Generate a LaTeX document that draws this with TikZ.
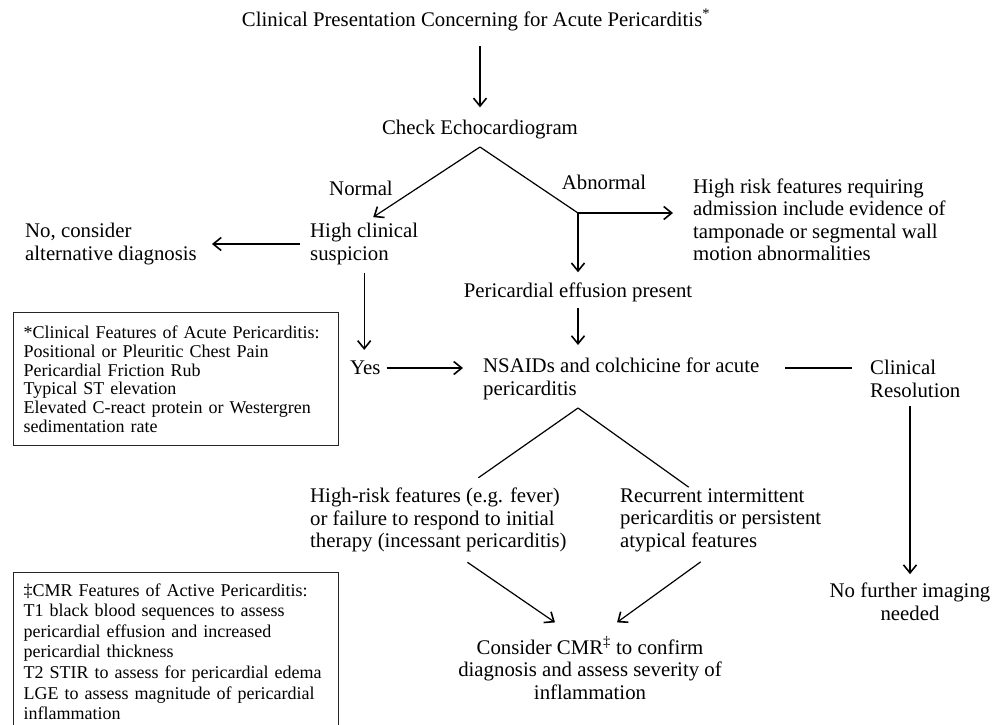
\documentclass[tikz,border=0pt]{standalone}
\usepackage{fontspec}
\setmainfont{Liberation Serif}
\usetikzlibrary{arrows.meta}

\begin{document}
\begin{tikzpicture}[
  x=1pt, y=-1pt,
  txt/.style={inner sep=0pt, font=\fontsize{20.8}{22.5}\selectfont},
  lefttxt/.style={txt, anchor=west, align=left},
  midtxt/.style={txt, align=center},
  notebox/.style={draw=black!85, line width=1.4pt, anchor=north west, align=left,
    text width=305pt, inner xsep=10pt, inner ysep=0pt, minimum width=325pt},
  arrow/.style={-{Straight Barb[length=8pt,width=13pt,line width=1.6pt]}, line width=1.2pt},
  link/.style={line width=1.2pt}
]
  \useasboundingbox (0,0) rectangle (1003,724);

  % top of the chart
  \node[midtxt] (title) at (476,20) {Clinical Presentation Concerning for Acute Pericarditis\textsuperscript{*}};
  \node[midtxt] (echo) at (480,130) {Check Echocardiogram};
  \node[midtxt] (normal) at (361,188) {Normal};
  \node[midtxt] (abnormal) at (604,182) {Abnormal};
  \node[lefttxt] (susp) at (310,244) {High clinical\\suspicion};
  \node[lefttxt] (nodiag) at (25,244) {No, consider\\alternative diagnosis};
  \node[lefttxt] (risk) at (693,220) {High risk features requiring\\admission include evidence of\\tamponade or segmental wall\\motion abnormalities};
  \node[midtxt] (effusion) at (578,292) {Pericardial effusion present};

  % treatment row
  \node[lefttxt] (yes) at (350,368) {Yes};
  \node[lefttxt] (nsaid) at (483,379) {NSAIDs and colchicine for acute\\pericarditis};
  \node[lefttxt] (resol) at (870,379) {Clinical\\Resolution};

  % lower part
  \node[lefttxt] (highrisk) at (310,520) {High-risk features (e.g. fever)\\or failure to respond to initial\\therapy (incessant pericarditis)};
  \node[lefttxt] (recur) at (620,520) {Recurrent intermittent\\pericarditis or persistent\\atypical features};
  \node[midtxt] (cmr) at (590,668) {Consider CMR\textsuperscript{‡} to confirm\\diagnosis and assess severity of\\inflammation};
  \node[midtxt] (nofurther) at (910,602) {No further imaging\\needed};

  % side notes
  \node[notebox, minimum height=133pt, font=\fontsize{18}{18.8}\selectfont] (clinbox) at (13,312)
    {*Clinical Features of Acute Pericarditis:\\Positional or Pleuritic Chest Pain\\Pericardial Friction Rub\\Typical ST elevation\\Elevated C-react protein or Westergren\\sedimentation rate};
  \node[notebox, minimum height=158pt, font=\fontsize{18}{20.6}\selectfont] (cmrbox) at (13,572)
    {‡CMR Features of Active Pericarditis:\\T1 black blood sequences to assess\\pericardial effusion and increased\\pericardial thickness\\T2 STIR to assess for pericardial edema\\LGE to assess magnitude of pericardial\\inflammation};

  \coordinate (echofork) at (480,147);
  \coordinate (abnfork) at (578,213);
  \coordinate (nsaidfork) at (578,408);

  \draw[arrow, shorten <=15pt, shorten >=13pt] (title.south -| echo.north) -- (echo.north);
  \draw[arrow] (echofork) -- ([xshift=9pt,yshift=6pt]susp.north);
  \draw[link] (echofork) -- (abnfork);
  \draw[arrow, shorten >=20pt] (abnfork) -- (abnfork -| risk.west);
  \draw[arrow, shorten >=10pt] (abnfork) -- (effusion.north);
  \draw[arrow, shorten <=6pt, shorten >=13pt] (effusion.south) -- (effusion.south |- nsaid.north);
  \draw[arrow, shorten <=10pt, shorten >=15pt] (susp.west) -- (susp.west -| nodiag.east);
  \draw[arrow, shorten <=8pt, shorten >=11pt] (susp.south) -- (susp.south |- yes.north);
  \draw[arrow, shorten <=6pt, shorten >=20pt] (yes.east) -- (yes.east -| nsaid.west);
  \draw[link, shorten <=26pt, shorten >=18pt] (yes.east -| nsaid.east) -- (yes.east -| resol.west);
  \draw[link] (nsaidfork) -- ([xshift=40pt,yshift=10pt]highrisk.north);
  \draw[link] (nsaidfork) -- ([xshift=-32pt,yshift=1pt]recur.north);
  \draw[arrow] ([xshift=29pt,yshift=-10pt]highrisk.south) -- ([xshift=-35pt,yshift=14pt]cmr.north);
  \draw[arrow] ([xshift=-20pt,yshift=-10pt]recur.south) -- ([xshift=27pt,yshift=14pt]cmr.north);
  \draw[arrow, shorten <=8pt, shorten >=9pt] (resol.south -| nofurther.north) -- (nofurther.north);
\end{tikzpicture}
\end{document}
